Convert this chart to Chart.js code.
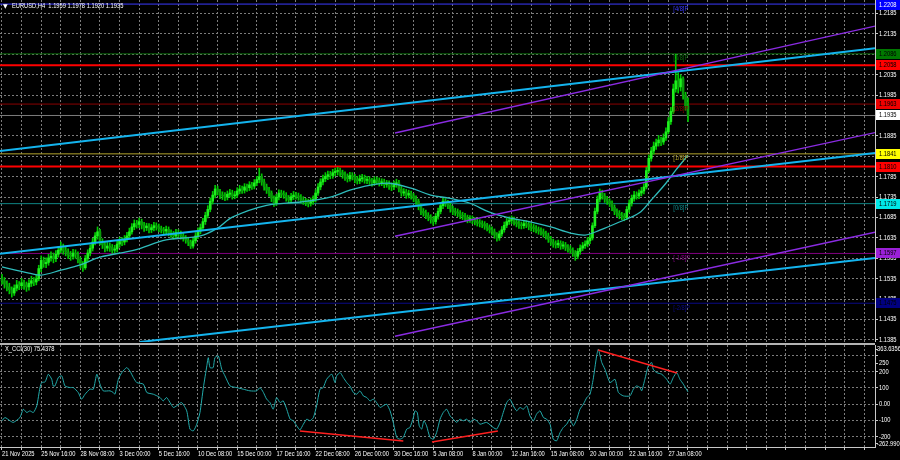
<!DOCTYPE html>
<html><head><meta charset="utf-8">
<script src="https://cdn.jsdelivr.net/npm/chart.js@4.4.1/dist/chart.umd.min.js"></script>
<style>
html,body{margin:0;padding:0;background:#000;width:900px;height:460px;overflow:hidden}
canvas{position:absolute;left:0;display:block}
#main{top:0}
#cci{top:342px}
</style></head><body>
<canvas id="main" width="900" height="342"></canvas>
<canvas id="cci" width="900" height="118"></canvas>
<script>
// ---------- DATA ----------
const symbolTitle = 'EURUSD,H4  1.1959 1.1978 1.1920 1.1935';
const cciTitle = 'X_CCI(30) 75.4378';
const timeLabels = ['21 Nov 2025','25 Nov 16:00','28 Nov 08:00','3 Dec 00:00','5 Dec 16:00','10 Dec 08:00','15 Dec 00:00','17 Dec 16:00','22 Dec 08:00','26 Dec 00:00','30 Dec 16:00','5 Jan 08:00','8 Jan 00:00','12 Jan 16:00','15 Jan 08:00','20 Jan 00:00','22 Jan 16:00','27 Jan 08:00'];
const priceTicks = [1.1385,1.1435,1.1485,1.1535,1.1585,1.1635,1.1685,1.1735,1.1785,1.1835,1.1885,1.1935,1.1985,1.2035,1.2085,1.2135,1.2185];

const opens = [1.1535,1.1530,1.1522,1.1515,1.1508,1.1500,1.1512,1.1520,1.1518,1.1525,
1.1520,1.1515,1.1524,1.1530,1.1527,1.1535,1.1560,1.1580,1.1572,1.1575,
1.1586,1.1590,1.1584,1.1595,1.1605,1.1612,1.1604,1.1600,1.1593,1.1590,
1.1598,1.1595,1.1582,1.1570,1.1562,1.1585,1.1598,1.1610,1.1625,1.1640,
1.1650,1.1625,1.1618,1.1610,1.1615,1.1612,1.1605,1.1608,1.1620,1.1628,
1.1625,1.1632,1.1640,1.1650,1.1662,1.1670,1.1668,1.1675,1.1666,1.1660,
1.1664,1.1655,1.1660,1.1665,1.1662,1.1658,1.1655,1.1652,1.1656,1.1648,
1.1644,1.1640,1.1648,1.1645,1.1640,1.1635,1.1630,1.1625,1.1615,1.1628,
1.1640,1.1652,1.1660,1.1675,1.1690,1.1705,1.1725,1.1740,1.1755,1.1748,
1.1740,1.1738,1.1735,1.1742,1.1745,1.1738,1.1740,1.1750,1.1755,1.1752,
1.1760,1.1758,1.1765,1.1762,1.1770,1.1778,1.1785,1.1772,1.1760,1.1752,
1.1745,1.1732,1.1720,1.1735,1.1745,1.1742,1.1740,1.1733,1.1728,1.1736,
1.1740,1.1738,1.1735,1.1728,1.1725,1.1722,1.1720,1.1724,1.1730,1.1745,
1.1760,1.1772,1.1780,1.1786,1.1790,1.1788,1.1795,1.1798,1.1800,1.1795,
1.1790,1.1784,1.1780,1.1788,1.1785,1.1778,1.1775,1.1780,1.1782,1.1776,
1.1778,1.1774,1.1770,1.1777,1.1775,1.1770,1.1772,1.1766,1.1768,1.1762,
1.1760,1.1766,1.1770,1.1755,1.1745,1.1748,1.1740,1.1744,1.1738,1.1732,
1.1725,1.1712,1.1700,1.1696,1.1690,1.1686,1.1680,1.1675,1.1688,1.1700,
1.1714,1.1725,1.1720,1.1715,1.1706,1.1700,1.1698,1.1695,1.1690,1.1688,
1.1684,1.1680,1.1682,1.1678,1.1675,1.1672,1.1670,1.1668,1.1664,1.1660,
1.1655,1.1650,1.1642,1.1635,1.1645,1.1655,1.1666,1.1675,1.1678,1.1680,
1.1674,1.1670,1.1666,1.1665,1.1670,1.1668,1.1663,1.1660,1.1658,1.1655,
1.1652,1.1650,1.1645,1.1640,1.1632,1.1625,1.1620,1.1618,1.1622,1.1615,
1.1618,1.1612,1.1608,1.1605,1.1598,1.1590,1.1602,1.1610,1.1616,1.1620,
1.1628,1.1635,1.1665,1.1700,1.1730,1.1745,1.1738,1.1730,1.1725,1.1720,
1.1710,1.1700,1.1695,1.1690,1.1688,1.1685,1.1705,1.1720,1.1732,1.1740,
1.1738,1.1745,1.1750,1.1760,1.1800,1.1830,1.1848,1.1860,1.1868,1.1875,
1.1870,1.1880,1.1895,1.1920,1.1945,1.2000,1.2020,1.2005,1.2025,1.1985,1.1959];

const highs = [1.1546,1.1538,1.1530,1.1524,1.1515,1.1520,1.1531,1.1528,1.1536,1.1532,
1.1527,1.1533,1.1541,1.1538,1.1546,1.1568,1.1591,1.1588,1.1586,1.1595,
1.1601,1.1598,1.1604,1.1614,1.1625,1.1620,1.1613,1.1608,1.1602,1.1607,
1.1606,1.1601,1.1588,1.1577,1.1592,1.1606,1.1618,1.1634,1.1648,1.1662,
1.1656,1.1633,1.1626,1.1624,1.1623,1.1619,1.1617,1.1628,1.1637,1.1636,
1.1641,1.1649,1.1659,1.1670,1.1679,1.1678,1.1684,1.1681,1.1673,1.1671,
1.1670,1.1668,1.1673,1.1672,1.1669,1.1664,1.1661,1.1664,1.1662,1.1655,
1.1651,1.1656,1.1655,1.1652,1.1647,1.1641,1.1637,1.1630,1.1635,1.1648,
1.1660,1.1669,1.1683,1.1698,1.1714,1.1733,1.1749,1.1764,1.1762,1.1754,
1.1748,1.1746,1.1750,1.1754,1.1752,1.1749,1.1758,1.1764,1.1762,1.1768,
1.1767,1.1773,1.1771,1.1778,1.1786,1.1806,1.1792,1.1779,1.1767,1.1759,
1.1750,1.1738,1.1742,1.1753,1.1752,1.1750,1.1746,1.1739,1.1744,1.1749,
1.1747,1.1745,1.1741,1.1736,1.1732,1.1730,1.1733,1.1738,1.1753,1.1768,
1.1780,1.1789,1.1795,1.1799,1.1798,1.1803,1.1806,1.1808,1.1806,1.1801,
1.1797,1.1792,1.1796,1.1795,1.1791,1.1786,1.1789,1.1791,1.1789,1.1786,
1.1785,1.1781,1.1785,1.1784,1.1782,1.1780,1.1779,1.1776,1.1775,1.1770,
1.1774,1.1779,1.1776,1.1761,1.1756,1.1754,1.1752,1.1750,1.1744,1.1738,
1.1730,1.1718,1.1707,1.1703,1.1697,1.1692,1.1687,1.1695,1.1708,1.1722,
1.1733,1.1731,1.1727,1.1721,1.1713,1.1708,1.1706,1.1702,1.1698,1.1695,
1.1691,1.1690,1.1689,1.1685,1.1682,1.1680,1.1677,1.1675,1.1671,1.1667,
1.1662,1.1657,1.1648,1.1652,1.1663,1.1674,1.1683,1.1687,1.1689,1.1686,
1.1681,1.1677,1.1674,1.1678,1.1677,1.1675,1.1671,1.1668,1.1665,1.1662,
1.1660,1.1657,1.1652,1.1647,1.1639,1.1632,1.1628,1.1630,1.1628,1.1626,
1.1624,1.1619,1.1616,1.1611,1.1604,1.1609,1.1618,1.1624,1.1628,1.1636,
1.1643,1.1672,1.1708,1.1738,1.1755,1.1752,1.1744,1.1737,1.1731,1.1726,
1.1716,1.1706,1.1702,1.1698,1.1695,1.1712,1.1728,1.1740,1.1749,1.1748,
1.1753,1.1759,1.1768,1.1808,1.1838,1.1857,1.1870,1.1877,1.1886,1.1882,
1.1890,1.1905,1.1930,1.1955,1.2012,1.2085,1.2040,1.2035,1.2030,1.1992,1.1978];

const lows = [1.1522,1.1512,1.1505,1.1498,1.1490,1.1494,1.1505,1.1508,1.1511,1.1509,
1.1504,1.1507,1.1516,1.1518,1.1520,1.1530,1.1552,1.1563,1.1562,1.1568,
1.1578,1.1574,1.1577,1.1588,1.1598,1.1595,1.1591,1.1584,1.1580,1.1583,
1.1585,1.1574,1.1561,1.1553,1.1558,1.1578,1.1591,1.1603,1.1618,1.1632,
1.1618,1.1609,1.1601,1.1603,1.1602,1.1597,1.1598,1.1601,1.1612,1.1616,
1.1618,1.1625,1.1633,1.1644,1.1655,1.1659,1.1660,1.1657,1.1651,1.1653,
1.1647,1.1648,1.1652,1.1654,1.1650,1.1647,1.1644,1.1645,1.1640,1.1636,
1.1632,1.1634,1.1637,1.1632,1.1627,1.1622,1.1616,1.1609,1.1610,1.1622,
1.1633,1.1645,1.1654,1.1668,1.1684,1.1699,1.1718,1.1733,1.1740,1.1731,
1.1729,1.1726,1.1728,1.1735,1.1730,1.1731,1.1734,1.1743,1.1744,1.1745,
1.1749,1.1751,1.1754,1.1755,1.1763,1.1770,1.1764,1.1752,1.1744,1.1737,
1.1724,1.1712,1.1714,1.1728,1.1734,1.1732,1.1725,1.1720,1.1721,1.1729,
1.1730,1.1727,1.1720,1.1717,1.1714,1.1711,1.1713,1.1717,1.1723,1.1739,
1.1753,1.1765,1.1773,1.1778,1.1780,1.1781,1.1787,1.1789,1.1786,1.1781,
1.1776,1.1772,1.1774,1.1777,1.1770,1.1767,1.1768,1.1772,1.1769,1.1768,
1.1766,1.1762,1.1764,1.1767,1.1762,1.1763,1.1758,1.1759,1.1754,1.1751,
1.1753,1.1759,1.1748,1.1737,1.1738,1.1732,1.1733,1.1730,1.1724,1.1717,
1.1704,1.1692,1.1688,1.1682,1.1677,1.1671,1.1666,1.1669,1.1681,1.1694,
1.1707,1.1712,1.1707,1.1698,1.1692,1.1690,1.1687,1.1682,1.1680,1.1676,
1.1672,1.1673,1.1670,1.1667,1.1664,1.1662,1.1660,1.1656,1.1652,1.1647,
1.1642,1.1634,1.1627,1.1629,1.1639,1.1649,1.1660,1.1668,1.1670,1.1666,
1.1662,1.1658,1.1657,1.1658,1.1660,1.1655,1.1652,1.1650,1.1647,1.1644,
1.1642,1.1637,1.1632,1.1624,1.1617,1.1612,1.1610,1.1611,1.1607,1.1608,
1.1604,1.1600,1.1597,1.1590,1.1580,1.1584,1.1595,1.1604,1.1609,1.1613,
1.1621,1.1630,1.1660,1.1694,1.1723,1.1730,1.1722,1.1717,1.1712,1.1702,
1.1692,1.1687,1.1682,1.1680,1.1677,1.1680,1.1698,1.1713,1.1725,1.1730,
1.1731,1.1738,1.1743,1.1755,1.1795,1.1823,1.1840,1.1852,1.1860,1.1861,
1.1864,1.1874,1.1890,1.1913,1.1940,1.1992,1.1990,1.1995,1.1975,1.1948,1.1920];

const closes = [1.1530,1.1522,1.1515,1.1508,1.1500,1.1512,1.1520,1.1518,1.1525,1.1520,
1.1515,1.1524,1.1530,1.1527,1.1535,1.1560,1.1580,1.1572,1.1575,1.1586,
1.1590,1.1584,1.1595,1.1605,1.1612,1.1604,1.1600,1.1593,1.1590,1.1598,
1.1595,1.1582,1.1570,1.1562,1.1585,1.1598,1.1610,1.1625,1.1640,1.1650,
1.1625,1.1618,1.1610,1.1615,1.1612,1.1605,1.1608,1.1620,1.1628,1.1625,
1.1632,1.1640,1.1650,1.1662,1.1670,1.1668,1.1675,1.1666,1.1660,1.1664,
1.1655,1.1660,1.1665,1.1662,1.1658,1.1655,1.1652,1.1656,1.1648,1.1644,
1.1640,1.1648,1.1645,1.1640,1.1635,1.1630,1.1625,1.1615,1.1628,1.1640,
1.1652,1.1660,1.1675,1.1690,1.1705,1.1725,1.1740,1.1755,1.1748,1.1740,
1.1738,1.1735,1.1742,1.1745,1.1738,1.1740,1.1750,1.1755,1.1752,1.1760,
1.1758,1.1765,1.1762,1.1770,1.1778,1.1785,1.1772,1.1760,1.1752,1.1745,
1.1732,1.1720,1.1735,1.1745,1.1742,1.1740,1.1733,1.1728,1.1736,1.1740,
1.1738,1.1735,1.1728,1.1725,1.1722,1.1720,1.1724,1.1730,1.1745,1.1760,
1.1772,1.1780,1.1786,1.1790,1.1788,1.1795,1.1798,1.1800,1.1795,1.1790,
1.1784,1.1780,1.1788,1.1785,1.1778,1.1775,1.1780,1.1782,1.1776,1.1778,
1.1774,1.1770,1.1777,1.1775,1.1770,1.1772,1.1766,1.1768,1.1762,1.1760,
1.1766,1.1770,1.1755,1.1745,1.1748,1.1740,1.1744,1.1738,1.1732,1.1725,
1.1712,1.1700,1.1696,1.1690,1.1686,1.1680,1.1675,1.1688,1.1700,1.1714,
1.1725,1.1720,1.1715,1.1706,1.1700,1.1698,1.1695,1.1690,1.1688,1.1684,
1.1680,1.1682,1.1678,1.1675,1.1672,1.1670,1.1668,1.1664,1.1660,1.1655,
1.1650,1.1642,1.1635,1.1645,1.1655,1.1666,1.1675,1.1678,1.1680,1.1674,
1.1670,1.1666,1.1665,1.1670,1.1668,1.1663,1.1660,1.1658,1.1655,1.1652,
1.1650,1.1645,1.1640,1.1632,1.1625,1.1620,1.1618,1.1622,1.1615,1.1618,
1.1612,1.1608,1.1605,1.1598,1.1590,1.1602,1.1610,1.1616,1.1620,1.1628,
1.1635,1.1665,1.1700,1.1730,1.1745,1.1738,1.1730,1.1725,1.1720,1.1710,
1.1700,1.1695,1.1690,1.1688,1.1685,1.1705,1.1720,1.1732,1.1740,1.1738,
1.1745,1.1750,1.1760,1.1800,1.1830,1.1848,1.1860,1.1868,1.1875,1.1870,
1.1880,1.1895,1.1920,1.1945,1.2000,1.2020,1.2005,1.2025,1.1985,1.1959,1.1935];

// moving average (bar index, value)
const maBars = [0,11,16,24,32,40,54,67,81,88,94,108,122,134,142,150,158,167,175,183,191,199,207,216,224,232,238,244,252,260,265,271,275,280];
const maValues = [1.1564,1.1549,1.1544,1.1556,1.1569,1.1588,1.1605,1.1630,1.1640,1.1659,1.1686,1.1715,1.1723,1.1735,1.1752,1.1764,1.1769,1.1757,1.1740,1.1732,1.1720,1.1698,1.1684,1.1674,1.1662,1.1647,1.1642,1.1654,1.1674,1.1696,1.1728,1.1769,1.1801,1.1838];

// horizontal levels
const murreyLevels = [1.2208,1.2086,1.1963,1.1841,1.1719,1.1597,1.1475];
const murreyNames = ['[4/8]P','[3/8]P','[2/8]P','[1/8]P','[0/8]P','[-1/8]P','[-2/8]P'];
const redLevels = [1.2058,1.1810];
const bidPrice = 1.1935;
const axisMarks = [1.2208,1.2086,1.2058,1.1963,1.1935,1.1841,1.1810,1.1719,1.1597,1.1475];

// trend channels: [bar, price] endpoints
const blueTopBars = [-0.82,356.33], blueTopPrices = [1.1848,1.2100];
const blueMidBars = [-0.82,356.33], blueMidPrices = [1.1596,1.1843];
const blueLowBars = [56.3,356.33], blueLowPrices = [1.1380,1.1586];
const purpleUpBars = [160.4,356.33], purpleUpPrices = [1.1892,1.2154];
const purpleMidBars = [160.4,356.33], purpleMidPrices = [1.1639,1.1893];
const purpleLowBars = [160.4,356.33], purpleLowPrices = [1.1394,1.1649];

// CCI
const cciBars = [0,1.2,3.3,4.6,7.3,8.7,10.1,11.4,12.8,14.2,
15.5,16.2,17.6,18.9,20.3,20.9,21.6,23,24.4,25.7,
27.8,29.1,31.1,32.5,33.9,35.9,37.3,38.7,40,41.3,
44.1,45.4,46.1,47.5,48.9,50.9,52.2,53.6,55,57.7,
59.1,61.8,64.5,65.8,67.2,69.9,71.3,73.3,75.4,76.7,
78.1,79.5,80.8,82.2,83.6,84.2,84.9,86.2,86.9,88.3,
89.7,91,93.1,95.8,98.5,101.2,104,105.3,106.7,108,
109.4,110.7,112.1,113.5,114.8,116.2,117.6,118.9,120.3,121.6,
123,124.4,125.7,127.1,128.4,129.8,131.1,132.5,134.6,135.9,
136.6,138,139.3,140.7,142,143.4,144.8,146.1,147.5,148.9,
150.2,151.6,152.9,154.3,155.6,157,158.4,159.7,161.1,162.4,
163.8,165.2,166.5,167.9,168.6,169.5,170.3,171.3,172.2,173.3,
174.7,176.1,177.4,178.8,180.1,181.5,182.9,184.2,185.6,186.9,
188.3,189.7,191,192.4,193.8,195.1,197.8,200.5,201.9,203.3,
204.6,206,207.3,208.7,210.1,211.4,212.8,214.2,215.5,216.9,
218.2,219.6,221,222.3,223.7,225,226.4,227.8,229.1,230.5,
231.8,233.2,234.6,235.9,237.3,238.7,240,241.3,242.7,243.4,
244.8,246.1,248.2,250.2,251.6,253.6,256.3,257.7,259,260.4,
261.1,262.4,263.8,265.2,265.8,267.2,269.3,271.3,272.7,274,
275.4,276.7,278.1,280];
const cciValues = [-102,-82,-102,-112,-82,-31,-51,-41,-51,-10,
102,133,137,184,153,112,112,164,174,112,
102,102,72,31,61,92,92,184,123,82,
82,72,61,153,194,225,204,164,133,123,
72,61,41,20,41,-20,-10,10,-41,-153,
-164,-123,-51,102,235,286,225,225,286,296,
215,174,112,102,92,82,82,102,72,31,
10,-31,41,10,20,-31,-92,-102,-133,-158,
-123,-92,-102,-82,-10,92,102,153,184,133,
174,194,164,133,112,72,61,82,51,41,
20,31,10,-20,-10,0,-41,-112,-204,-215,
-204,-153,-143,-82,-41,-51,-133,-153,-102,-133,
-204,-215,-174,-92,-51,-31,-72,-92,-112,-92,
-102,-92,-112,-92,-102,-123,-112,-143,-153,-112,
-51,10,31,-10,-41,-20,-31,-10,-72,-102,
-61,-41,-82,-92,-123,-215,-225,-174,-143,-123,
-92,-133,-92,-31,0,41,61,153,296,337,
256,215,133,153,72,51,51,92,112,102,
82,153,235,256,215,194,184,153,123,164,
194,153,123,75.4378];
const cciDivABars = [121.6,163.8], cciDivAValues = [-165,-226];
const cciDivBBars = [175.5,202.4], cciDivBValues = [-232,-165];
const cciDivCBars = [243.3,275.5], cciDivCValues = [333,192];
const cciMax = 363.6356, cciMin = -262.9907;
const cciGridLevels = [300,200,100,0,-100,-200];
const cciTickValues = [339,300,250,200,100,0,-100,-200,-244];
const cciTickLabels = ['363.6356','','250','200','100','0.00','-100','-200','-262.9907'];

// ---------- STYLE / LAYOUT ----------
const FONT = "'Liberation Sans', Arial, sans-serif";
const FONT_PX = 7;
const TEXT_SX = 0.82;            // horizontal squeeze of the small terminal font
const X_MIN = -0.816, X_MAX = 356.33, Y_MIN = 1.1380, Y_MAX = 1.2218;
const AXIS_W = 25;
const GRID = '#7c7c7c';
const AXIS_LINE = '#c8c8c8';
const murreyColors = ['#3a3aff','#0b6b0b','#8b0000','#b0a22c','#0f8585','#800080','#0a0a88'];
const murreyLabelBar = 274;
const markStyles = [['#0000ff','#ffffff'],['#007800','#000000'],['#ff0000','#000000'],['#ee0000','#000000'],['#ffffff','#000000'],['#ffff00','#000000'],['#ff0000','#000000'],['#00e8e8','#000000'],['#9b20d8','#000000'],['#000080','#000000']];

Chart.defaults.font.family = FONT;
Chart.defaults.font.size = FONT_PX;
Chart.defaults.color = '#ffffff';

function squeezedText(ctx, text, x, y, color, align, baseline) {
  ctx.save();
  ctx.font = FONT_PX + 'px ' + FONT;
  ctx.fillStyle = color;
  ctx.textAlign = align || 'left';
  ctx.textBaseline = baseline || 'middle';
  ctx.translate(x, y);
  ctx.scale(TEXT_SX, 1);
  ctx.fillText(text, 0, 0);
  ctx.restore();
}

const barIndex = closes.map((_, i) => i);
const pts = (xs, ys) => xs.map((x, k) => ({x: x, y: ys[k]}));
const hline = (v, color, width, order) => ({type: 'line', data: [{x: X_MIN - 1, y: v}, {x: X_MAX + 1, y: v}], borderColor: color, borderWidth: width, pointRadius: 0, order: order});
const seg = (xs, ys, color, width, order) => ({type: 'line', data: pts(xs, ys), borderColor: color, borderWidth: width, pointRadius: 0, order: order});

const xTicks = [];
for (let b = 0; b <= 352; b += 8) xTicks.push(b);

const mainDatasets = [];
murreyLevels.forEach((v, k) => mainDatasets.push(hline(v, murreyColors[k], 1, 20)));
mainDatasets.push(hline(bidPrice, '#7a7a7a', 1, 20));
redLevels.forEach(v => mainDatasets.push(hline(v, '#ff0000', 2, 19)));
mainDatasets.push({
  type: 'bar', data: barIndex.map(i => ({x: i, y: [lows[i], highs[i]]})),
  backgroundColor: '#00c800', barThickness: 1, grouped: false, borderWidth: 0, order: 12
});
mainDatasets.push({
  type: 'bar', data: barIndex.map(i => ({x: i, y: [opens[i], closes[i]]})),
  backgroundColor: ctx => (closes[ctx.dataIndex] >= opens[ctx.dataIndex] ? '#1ef01e' : '#0a9a0a'),
  barThickness: 2, grouped: false, borderWidth: 0, minBarLength: 1, order: 11
});
mainDatasets.push({type: 'line', data: pts(maBars, maValues), borderColor: '#2fbcbc', borderWidth: 1.3, pointRadius: 0, tension: 0.35, order: 5});
mainDatasets.push(seg(blueTopBars, blueTopPrices, '#14b4ee', 2, 3));
mainDatasets.push(seg(blueMidBars, blueMidPrices, '#14b4ee', 2, 3));
mainDatasets.push(seg(blueLowBars, blueLowPrices, '#14b4ee', 2, 3));
mainDatasets.push(seg(purpleUpBars, purpleUpPrices, '#8a2be2', 1.4, 2));
mainDatasets.push(seg(purpleMidBars, purpleMidPrices, '#8a2be2', 1.4, 2));
mainDatasets.push(seg(purpleLowBars, purpleLowPrices, '#8a2be2', 1.4, 2));

const mainOverlay = {
  id: 'mainOverlay',
  afterDatasetsDraw(chart) {
    const xs = chart.scales.x, ys = chart.scales.y;
    murreyLevels.forEach((v, k) => {
      squeezedText(chart.ctx, murreyNames[k], xs.getPixelForValue(murreyLabelBar), ys.getPixelForValue(v) + 1, murreyColors[k], 'left', 'top');
    });
  },
  afterDraw(chart) {
    const ctx = chart.ctx, ys = chart.scales.y, area = chart.chartArea;
    priceTicks.forEach(v => squeezedText(ctx, v.toFixed(4), area.right + 4, ys.getPixelForValue(v), '#ffffff'));
    axisMarks.forEach((v, k) => {
      const y = ys.getPixelForValue(v);
      const top = Math.max(0, Math.round(y - 5));
      ctx.fillStyle = markStyles[k][0];
      ctx.fillRect(area.right + 1, top, AXIS_W - 1, 10);
      squeezedText(ctx, v.toFixed(4), area.right + 4, top + 5, markStyles[k][1]);
    });
    ctx.save();
    ctx.fillStyle = '#ffffff';
    ctx.font = '6px DejaVu Sans';
    ctx.textBaseline = 'middle';
    ctx.fillText('\u25BC', 3, 6);
    ctx.restore();
    squeezedText(ctx, symbolTitle, 12, 6, '#ffffff');
  }
};

const fixY = s => { s.width = AXIS_W; s.paddingTop = 0; s.paddingBottom = 0; };

new Chart(document.getElementById('main'), {
  type: 'bar',
  data: {datasets: mainDatasets},
  options: {
    responsive: false, animation: false, events: [],
    layout: {padding: 0},
    plugins: {legend: {display: false}, tooltip: {enabled: false}},
    scales: {
      x: {
        type: 'linear', min: X_MIN, max: X_MAX, offset: false,
        afterBuildTicks: s => { s.ticks = xTicks.map(v => ({value: v})); },
        afterFit: s => { s.height = 0; s.paddingLeft = 0; s.paddingRight = 0; },
        ticks: {display: false},
        grid: {color: GRID, drawTicks: false, offset: false},
        border: {display: false, dash: [2, 2]}
      },
      y: {
        type: 'linear', position: 'right', min: Y_MIN, max: Y_MAX,
        afterBuildTicks: s => { s.ticks = priceTicks.map(v => ({value: v})); },
        afterFit: fixY,
        ticks: {display: false},
        grid: {color: GRID, tickLength: 3, tickColor: AXIS_LINE},
        border: {display: true, color: AXIS_LINE, dash: [2, 2]}
      }
    }
  },
  plugins: [mainOverlay]
});

const cciOverlay = {
  id: 'cciOverlay',
  afterDraw(chart) {
    const ctx = chart.ctx, area = chart.chartArea, xs = chart.scales.x, ys = chart.scales.y;
    ctx.fillStyle = '#b4b4b4';
    ctx.fillRect(0, 1, area.right, 2);
    squeezedText(ctx, cciTitle, 5, 7, '#ffffff');
    cciTickValues.forEach((v, k) => {
      const lbl = cciTickLabels[k];
      if (!lbl) return;
      const dx = lbl.length > 5 ? 2 : 4;
      squeezedText(ctx, lbl, area.right + dx, ys.getPixelForValue(v), '#ffffff');
    });
    timeLabels.forEach((t, k) => {
      squeezedText(ctx, t, xs.getPixelForValue(k * 16), area.bottom + 7, '#ffffff');
    });
  }
};

new Chart(document.getElementById('cci'), {
  type: 'line',
  data: {datasets: [
    {data: pts(cciBars, cciValues), borderColor: '#22aaaa', borderWidth: 1, pointRadius: 0, tension: 0.2, order: 3},
    seg(cciDivABars, cciDivAValues, '#ff2020', 1.5, 1),
    seg(cciDivBBars, cciDivBValues, '#ff2020', 1.5, 1),
    seg(cciDivCBars, cciDivCValues, '#ff2020', 1.5, 1)
  ]},
  options: {
    responsive: false, animation: false, events: [],
    layout: {padding: {top: 3, left: 0, right: 0, bottom: 0}},
    plugins: {legend: {display: false}, tooltip: {enabled: false}},
    scales: {
      x: {
        type: 'linear', min: X_MIN, max: X_MAX, offset: false,
        afterBuildTicks: s => { s.ticks = xTicks.map(v => ({value: v})); },
        afterFit: s => { s.height = 13; s.paddingLeft = 0; s.paddingRight = 0; },
        ticks: {display: false},
        grid: {color: GRID, tickLength: 3, tickColor: AXIS_LINE},
        border: {display: true, color: AXIS_LINE, dash: [2, 2]}
      },
      y: {
        type: 'linear', position: 'right', min: cciMin, max: cciMax,
        afterBuildTicks: s => { s.ticks = cciTickValues.map(v => ({value: v})); },
        afterFit: fixY,
        ticks: {display: false},
        grid: {
          color: c => (c.tick && cciGridLevels.includes(c.tick.value) ? GRID : 'rgba(0,0,0,0)'),
          tickLength: 3, tickColor: AXIS_LINE
        },
        border: {display: true, color: AXIS_LINE, dash: [2, 2]}
      }
    }
  },
  plugins: [cciOverlay]
});
</script>
</body></html>
